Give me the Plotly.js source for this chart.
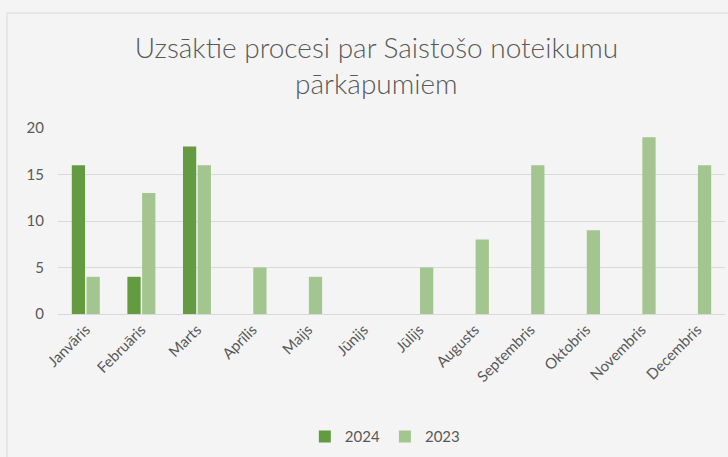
<!DOCTYPE html>
<html><head><meta charset="utf-8">
<script src="https://cdn.plot.ly/plotly-3.0.1.min.js"></script>
<style>html,body{margin:0;padding:0;background:#f4f4f4;}#c{width:728px;height:457px;}</style>
</head><body><div id="c"></div>
<script>
const months = ["Janvāris","Februāris","Marts","Aprīlis","Maijs","Jūnijs","Jūlijs","Augusts","Septembris","Oktobris","Novembris","Decembris"];
const values2024 = [16,4,18,0,0,0,0,0,0,0,0,0];
const values2023 = [4,13,16,5,4,0,5,8,16,9,19,16];
const yTicks = [0,5,10,15,20];

const font = "Lato, 'Open Sans', sans-serif";
const data = [
  {type:'bar', name:'2024', x:months, y:values2024, marker:{color:'#659b40'}},
  {type:'bar', name:'2023', x:months, y:values2023, marker:{color:'#a3c58f'}}
];
const layout = {
  width:728, height:457,
  paper_bgcolor:'#f4f4f4', plot_bgcolor:'#f4f4f4',
  margin:{l:58, r:3, t:128, b:143},
  barmode:'group', bargap:0.47, bargroupgap:0.1,
  title:{text:'Uzsāktie procesi par Saistošo noteikumu<br>pārkāpumiem', x:0.517, xanchor:'center', y:0.873, yanchor:'middle',
    font:{family:font, size:28, color:'#595959', weight:300}},
  xaxis:{tickangle:-45, tickfont:{family:font, size:15, color:'#595959'}, showgrid:false, showline:true, linecolor:'#d9d9d9', linewidth:1, ticks:''},
  yaxis:{range:[0,20], tickvals:yTicks, tickfont:{family:font, size:15, color:'#595959'}, gridcolor:'#d9d9d9', gridwidth:1, zeroline:false, ticks:'', ticklabelstandoff:13},
  showlegend:true,
  legend:{orientation:'h', x:0.49, xanchor:'center', y:-0.66, yanchor:'middle', font:{family:font, size:15, color:'#595959'}, itemwidth:30, traceorder:'normal'},
  shapes:[{type:'rect', xref:'paper', yref:'paper', x0:-0.0765, x1:1.2, y0:1.618, y1:-1.0, line:{color:'#d9d9d9', width:1}, fillcolor:'rgba(0,0,0,0)', layer:'below'}]
};
Plotly.newPlot('c', data, layout, {displayModeBar:false, staticPlot:true});
</script></body></html>
